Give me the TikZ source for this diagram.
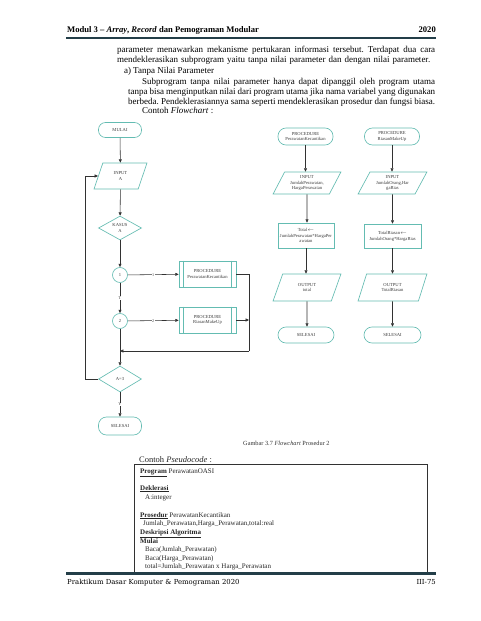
\documentclass[tikz,border=0pt]{standalone}
\usepackage{fontspec}
\setmainfont{Liberation Serif}
\newfontfamily\footfont{DejaVu Serif}
\usetikzlibrary{shapes.geometric,arrows.meta,calc}
\definecolor{shapeline}{RGB}{100,188,178}
\definecolor{rulecol}{RGB}{35,62,72}
\definecolor{linecol}{RGB}{50,50,50}
\definecolor{fctext}{RGB}{60,60,60}
\begin{document}
\frenchspacing
\begin{tikzpicture}[x=1pt,y=-1pt,
  fc/.style={font=\fontsize{4.6}{5.8}\selectfont, text=fctext, align=center, inner sep=0pt, draw=shapeline, line width=0.65pt},
  term/.style={fc, rectangle, rounded corners=7pt},
  io/.style={fc, trapezium, trapezium stretches=true},
  proc/.style={fc, rectangle},
  dec/.style={fc, diamond},
  jointc/.style={fc, circle, minimum size=15pt},
  arr/.style={draw=linecol, line width=0.55pt, -{Triangle[length=3.4pt,width=3pt]}},
  ln/.style={draw=linecol, line width=0.55pt},
  lab/.style={font=\fontsize{4.2}{4.2}\selectfont, text=fctext, fill=white, inner sep=0.4pt},
  body/.style={anchor=base west, inner sep=0pt, font=\fontsize{9}{10}\selectfont},
  code/.style={anchor=base west, inner sep=0pt, text=black!85, font=\fontsize{7}{8}\selectfont}
]
\useasboundingbox[fill=white] (0,0) rectangle (480,621);

% header
\node[anchor=base west, inner sep=0pt, font=\fontsize{8.6}{9}\selectfont\bfseries] (hdl) at (67,32.5) {Modul 3 -- \textit{Array}, \textit{Record} dan Pemograman Modular};
\node[anchor=base east, inner sep=0pt, font=\fontsize{8.6}{9}\selectfont\bfseries] (hdr) at (436,32.5) {2020};
\draw[rulecol, line width=1.8pt] (66,37.8) -- (436,37.8);

% body text
\node[body] (t1) at (117,52.7) {\makebox[318pt][s]{parameter menawarkan mekanisme pertukaran informasi tersebut. Terdapat dua cara}};
\node[body] (t2) at (117,62.7) {\makebox[313pt][s]{mendeklerasikan subprogram yaitu tanpa nilai parameter dan dengan nilai parameter.}};
\node[body] (t3a) at (124,73.3) {a)};
\node[body] (t3b) at (133,73.3) {Tanpa Nilai Parameter};
\node[body] (t4) at (142,84) {\makebox[293pt][s]{Subprogram tanpa nilai parameter hanya dapat dipanggil oleh program utama}};
\node[body] (t5) at (128,94) {\makebox[307pt][s]{tanpa bisa menginputkan nilai dari program utama jika nama variabel yang digunakan}};
\node[body] (t6) at (128,104) {\makebox[307pt][s]{berbeda. Pendeklerasiannya sama seperti mendeklerasikan prosedur dan fungsi biasa.}};
\node[body] (t7) at (142,113) {Contoh \textit{Flowchart} :};

% left flowchart
\node[term, minimum width=43pt, minimum height=15pt] (mulai) at (120,130) {MULAI};
\node[io, trapezium left angle=69, trapezium right angle=111, minimum width=53pt, minimum height=26pt] (ina) at (120.5,176) {INPUT\\A};
\node[dec, minimum width=43pt, minimum height=23pt] (kasus) at (120,228) {KASUS\\A};
\node[jointc] (c1) at (120,275) {1};
\node[proc, minimum width=57pt, minimum height=26pt] (p1) at (207.5,274) {PROCEDURE\\PerawatanKecantikan};
\node[jointc] (c2) at (120,321) {2};
\node[proc, minimum width=57pt, minimum height=26pt] (p2) at (207.5,320) {PROCEDURE\\RiasanMakeUp};
\node[dec, minimum width=43pt, minimum height=26pt] (ad) at (120,379) {A=3};
\node[term, minimum width=43pt, minimum height=18pt, rounded corners=8pt] (sel) at (120,426) {SELESAI};
\foreach \p in {p1,p2}{
  \draw[shapeline, line width=0.65pt] ($(\p.north west)+(5,0)$) -- ($(\p.south west)+(5,0)$);
  \draw[shapeline, line width=0.65pt] ($(\p.north east)+(-5,0)$) -- ($(\p.south east)+(-5,0)$);
}
\coordinate (mr) at (249,351);
\coordinate (ml) at (120,351);
\coordinate (p2r) at (249,320);
\coordinate (lp) at (85,379);

\draw[arr] (mulai) -- (ina);
\draw[arr] (ina) -- (kasus);
\draw[arr] (kasus) -- (c1);
\draw[arr] (c1) -- node[lab]{1} (p1);
\draw[arr] (c1) -- node[lab]{T} (c2);
\draw[arr] (c2) -- node[lab]{2} (p2);
\draw[ln] (p1.east) -| (mr);
\draw[arr] (mr) -- (ml);
\draw[arr] (p2.east) -- (p2r);
\draw[arr] (c2) -- (ad);
\draw[ln] (ad.west) -- (lp);
\draw[arr] (lp) |- (ina.west);
\draw[arr] (ad) -- node[lab]{Y} (sel);

% right flowcharts
\node[term, minimum width=55pt, minimum height=17pt, rounded corners=8pt] (pk) at (305.5,136.5) {PROCEDURE\\PerawatanKecantikan};
\node[term, minimum width=55pt, minimum height=17pt, rounded corners=8pt] (pr) at (392,136.5) {PROCEDURE\\RiasanMakeUp};
\node[io, trapezium left angle=61, trapezium right angle=119, minimum width=68pt, minimum height=22pt] (in1) at (307,183) {INPUT\\JumlahPerawatan,\\HargaPerawatan};
\node[io, trapezium left angle=61, trapezium right angle=119, minimum width=69pt, minimum height=22pt] (in2) at (392.5,183) {INPUT\\JumlahOrang,Har\\gaRias};
\node[proc, minimum width=56pt, minimum height=25pt] (pt1) at (306,235.5) {Total$\leftarrow$\\JumlahPerawatan*HargaPer\\awatan};
\node[proc, minimum width=57pt, minimum height=24pt] (pt2) at (392.5,236) {TotalRiasan$\leftarrow$\\JumlahOrang*HargaRias};
\node[io, trapezium left angle=68, trapezium right angle=112, minimum width=68pt, minimum height=27pt] (o1) at (307,287.5) {OUTPUT\\total};
\node[io, trapezium left angle=68, trapezium right angle=112, minimum width=69pt, minimum height=27pt] (o2) at (392.5,287.5) {OUTPUT\\TotalRiasan};
\node[term, minimum width=56pt, minimum height=16pt, rounded corners=8pt] (s1) at (306,335) {SELESAI};
\node[term, minimum width=57pt, minimum height=16pt, rounded corners=8pt] (s2) at (392.5,335) {SELESAI};
\draw[arr] (pk) -- (pk|-in1.north);
\draw[arr] (in1) -- (in1|-pt1.north);
\draw[arr] (pt1) -- (pt1|-o1.north);
\draw[arr] (o1) -- (o1|-s1.north);
\draw[arr] (pr) -- (pr|-in2.north);
\draw[arr] (in2) -- (in2|-pt2.north);
\draw[arr] (pt2) -- (pt2|-o2.north);
\draw[arr] (o2) -- (o2|-s2.north);

% caption
\node[anchor=base west, inner sep=0pt, font=\fontsize{6.3}{7}\selectfont, text=black!80] (cap) at (243,445) {Gambar 3.7 \textit{Flowchart} Prosedur 2};
\node[anchor=base west, inner sep=0pt, font=\fontsize{8.5}{10}\selectfont, text=black!85] (cps) at (139,462) {Contoh \textit{Pseudocode} :};

% pseudocode box
\draw[linecol, line width=0.6pt] (134.5,574) -- (134.5,464.5) -- (427,464.5) -- (427,574);
\node[code] (l1) at (140,473) {\underline{\textbf{Program}} PerawatanOASI};
\node[code] (l2) at (140,490) {\underline{\textbf{Deklerasi}}};
\node[code] (l3) at (145,499) {A:integer};
\node[code] (l4) at (140,517) {\underline{\textbf{Prosedur}} PerawatanKecantikan};
\node[code] (l5) at (143,525) {Jumlah\_Perawatan,Harga\_Perawatan,total:real};
\node[code] (l6) at (140,534) {\underline{\textbf{Deskripsi Algoritma}}};
\node[code] (l7) at (140,543) {\textbf{Mulai}};
\node[code] (l8) at (145,551.5) {Baca(Jumlah\_Perawatan)};
\node[code] (l9) at (145,560) {Baca(Harga\_Perawatan)};
\node[code] (l10) at (145,568.5) {total=Jumlah\_Perawatan x Harga\_Perawatan};

% footer
\draw[rulecol, line width=3pt] (66,573.8) -- (436,573.8);
\node[anchor=base west, inner sep=0pt, font=\footfont\fontsize{6.9}{8}\selectfont] (ft) at (67,584) {Praktikum Dasar Komputer \& Pemograman 2020};
\node[anchor=base east, inner sep=0pt, font=\footfont\fontsize{6.9}{8}\selectfont] (fr) at (436,584) {III-75};
\end{tikzpicture}
\end{document}
